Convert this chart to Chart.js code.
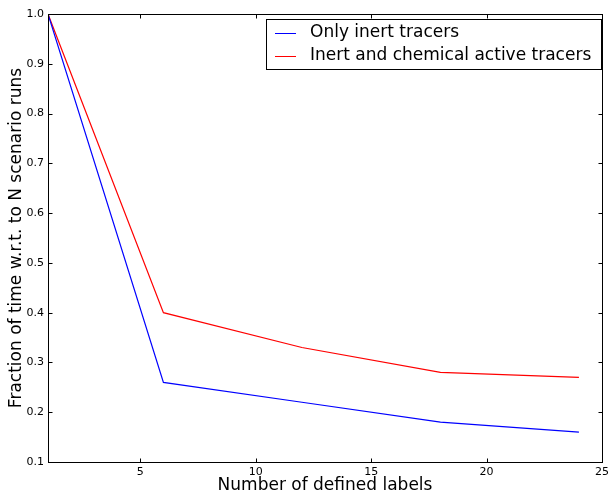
<!DOCTYPE html>
<html>
<head>
<meta charset="utf-8">
<script src="https://cdn.jsdelivr.net/npm/chart.js@4/dist/chart.umd.min.js"></script>
<style>
  html, body { margin: 0; padding: 0; background: #fff; }
  #wrap { width: 613px; height: 496px; }
</style>
</head>
<body>
<div id="wrap"><canvas id="c" width="613" height="496"></canvas></div>
<script>
// Number of defined labels on the x axis
const labelCounts = [1, 6, 12, 18, 24];
// Fraction of run time for each configuration
const inertOnly = [1.0, 0.26, 0.22, 0.18, 0.16];
const inertAndChemical = [1.0, 0.40, 0.33, 0.28, 0.27];
const seriesNames = ['Only inert tracers', 'Inert and chemical active tracers'];
const xTickValues = [5, 10, 15, 20, 25];
const yTickValues = [0.1, 0.2, 0.3, 0.4, 0.5, 0.6, 0.7, 0.8, 0.9, 1.0];
const yTitle = 'Fraction of time w.r.t. to N scenario runs';

const FONT = 'DejaVu Sans';

function toPoints(xs, ys) {
  return xs.map((x, i) => ({ x: x, y: ys[i] }));
}

// Frame, inward ticks on all four sides, the y title and the boxed legend
const framePlugin = {
  id: 'frame',
  afterDatasetsDraw(chart) {
    const { ctx, chartArea: a, scales } = chart;
    const L = Math.round(a.left) + 0.5, R = Math.round(a.right) + 0.5;
    const T = Math.round(a.top) + 0.5, B = Math.round(a.bottom) + 0.5;
    ctx.save();
    ctx.strokeStyle = '#000';
    ctx.lineWidth = 1;
    ctx.strokeRect(L, T, R - L, B - T);
    const tl = 4;
    ctx.beginPath();
    xTickValues.forEach(v => {
      const px = Math.round(scales.x.getPixelForValue(v)) + 0.5;
      ctx.moveTo(px, B); ctx.lineTo(px, B - tl);
      ctx.moveTo(px, T); ctx.lineTo(px, T + tl);
    });
    yTickValues.forEach(v => {
      const py = Math.round(scales.y.getPixelForValue(v)) + 0.5;
      ctx.moveTo(L, py); ctx.lineTo(L + tl, py);
      ctx.moveTo(R, py); ctx.lineTo(R - tl, py);
    });
    ctx.stroke();

    // y axis title, rotated
    ctx.save();
    ctx.translate(17, (a.top + a.bottom) / 2);
    ctx.rotate(-Math.PI / 2);
    ctx.font = '17px "' + FONT + '"';
    ctx.fillStyle = '#000';
    ctx.textAlign = 'center';
    ctx.textBaseline = 'middle';
    ctx.fillText(yTitle, 0, 0);
    ctx.restore();

    // legend box
    const bx = 266.5, by = 19.5, bw = 335, bh = 50;
    ctx.fillStyle = '#fff';
    ctx.fillRect(bx, by, bw, bh);
    ctx.strokeRect(bx, by, bw, bh);
    ctx.font = '17px "' + FONT + '"';
    ctx.textBaseline = 'middle';
    ctx.textAlign = 'left';
    chart.data.datasets.forEach((ds, i) => {
      const yy = 33 + i * 23;
      ctx.strokeStyle = ds.borderColor;
      ctx.beginPath();
      ctx.moveTo(275, yy + 0.5); ctx.lineTo(296, yy + 0.5);
      ctx.stroke();
      ctx.fillStyle = '#000';
      ctx.fillText(ds.label, 310, yy);
    });
    ctx.restore();
  }
};

new Chart(document.getElementById('c'), {
  type: 'line',
  data: {
    datasets: [
      { label: seriesNames[0], data: toPoints(labelCounts, inertOnly),
        borderColor: '#0000ff', borderWidth: 1.2, pointRadius: 0, tension: 0, fill: false },
      { label: seriesNames[1], data: toPoints(labelCounts, inertAndChemical),
        borderColor: '#ff0000', borderWidth: 1.2, pointRadius: 0, tension: 0, fill: false }
    ]
  },
  options: {
    responsive: false,
    animation: false,
    devicePixelRatio: 1,
    layout: { padding: { top: 14, right: 6, left: 0, bottom: 0 } },
    plugins: { legend: { display: false }, tooltip: { enabled: false } },
    scales: {
      x: {
        type: 'linear', min: 1, max: 25,
        grid: { display: false, drawTicks: false },
        border: { display: false },
        afterBuildTicks(s) { s.ticks = xTickValues.map(v => ({ value: v })); },
        afterFit(s) { s.height = 34; },
        ticks: { color: '#000', font: { family: FONT, size: 11 }, padding: 4, maxRotation: 0,
                 callback: v => String(v) },
        title: { display: true, text: 'Number of defined labels', color: '#000',
                 font: { family: FONT, size: 17 }, padding: { top: 0, bottom: 0 } }
      },
      y: {
        type: 'linear', min: 0.1, max: 1.0,
        grid: { display: false, drawTicks: false },
        border: { display: false },
        afterBuildTicks(s) { s.ticks = yTickValues.map(v => ({ value: v })); },
        afterFit(s) { s.width = 48; },
        ticks: { color: '#000', font: { family: FONT, size: 11 }, padding: 4,
                 callback: v => Number(v).toFixed(1) }
      }
    }
  },
  plugins: [framePlugin]
});
</script>
</body>
</html>
